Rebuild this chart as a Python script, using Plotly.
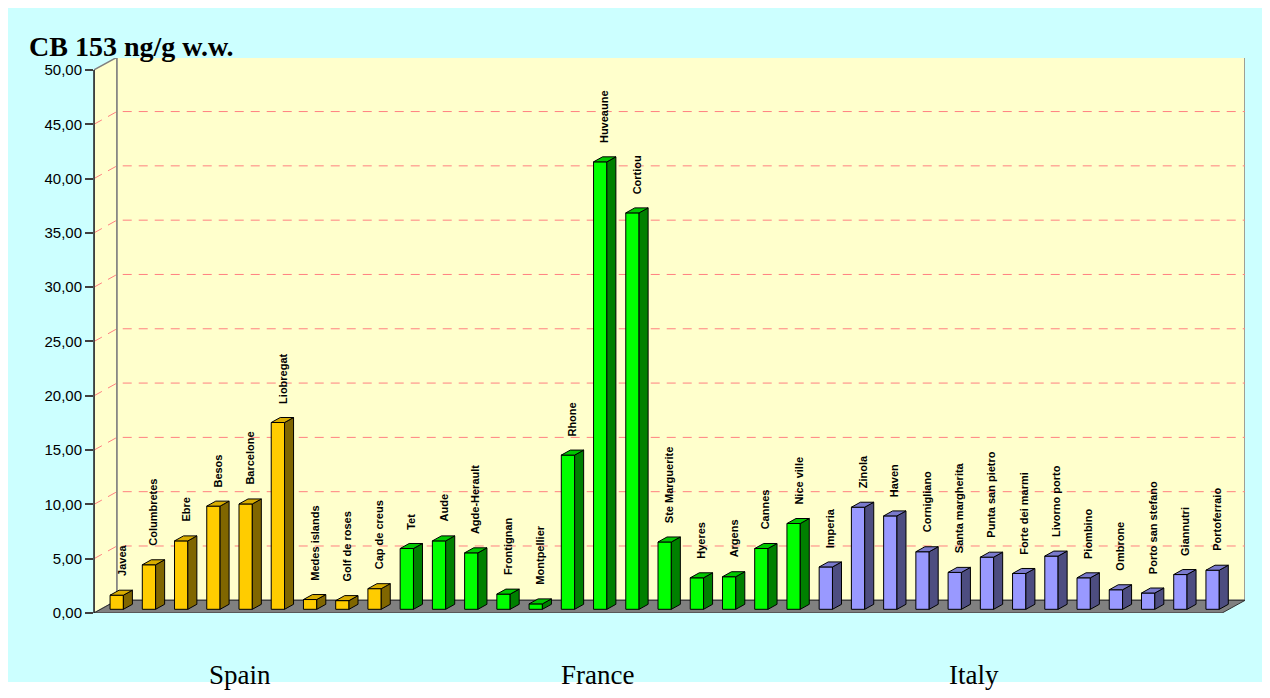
import plotly.graph_objects as go

# ---------------- data ----------------
spain_sites = ["Javea", "Columbretes", "Ebre", "Besos", "Barcelone", "Liobregat",
               "Medes islands", "Golf de roses", "Cap de creus"]
spain_values = [1.3, 4.1, 6.3, 9.5, 9.7, 17.2, 0.9, 0.8, 1.9]

france_sites = ["Tet", "Aude", "Agde-Herault", "Frontignan", "Montpellier", "Rhone",
                "Huveaune", "Cortiou", "Ste Marguerite", "Hyeres", "Argens", "Cannes",
                "Nice ville"]
france_values = [5.6, 6.3, 5.2, 1.4, 0.5, 14.2, 41.2, 36.5, 6.2, 2.9, 3.0, 5.6, 7.9]

italy_sites = ["Imperia", "Zinola", "Haven", "Cornigliano", "Santa margherita",
               "Punta san pietro", "Forte dei marmi", "Livorno porto", "Piombino",
               "Ombrone", "Porto san stefano", "Giannutri", "Portoferraio"]
italy_values = [3.9, 9.4, 8.6, 5.3, 3.4, 4.8, 3.3, 4.9, 2.9, 1.8, 1.5, 3.2, 3.6]

countries = ["Spain", "France", "Italy"]
tick_values = [0, 5, 10, 15, 20, 25, 30, 35, 40, 45, 50]
tick_labels = ["0,00", "5,00", "10,00", "15,00", "20,00", "25,00", "30,00",
               "35,00", "40,00", "45,00", "50,00"]
title_text = "CB 153 ng/g w.w."

# ---------------- styling / geometry ----------------
front_col = {"Spain": "#FFCC00", "France": "#00FF00", "Italy": "#9999FF"}
side_col = {"Spain": "#806600", "France": "#008000", "Italy": "#4D4D80"}
top_col = {"Spain": "#D9AD00", "France": "#00C800", "Italy": "#7A7ACC"}

n_total = len(spain_sites) + len(france_sites) + len(italy_sites)
X0 = -0.5
X1 = 35.21
Y1 = 51.1
DX, DY = 0.714, 1.17      # wall depth in axis units
OX, OY = 0.205, 0.34      # bar front-face offset
BW = 0.413                # bar front width
BDX, BDY = 0.28, 0.46     # bar depth

# page offset (body margin of the html page)
PAGE_OFF = 8
W, H = 1270 - PAGE_OFF, 698 - PAGE_OFF
ml = 94 - PAGE_OFF
mt = 58 - PAGE_OFF
mr = 1270 - 1245
mb = 698 - 613
pw, ph = W - ml - mr, H - mt - mb


def px_x(p):
    return (p - PAGE_OFF - ml) / pw


def px_y(p):
    return (H - mb - (p - PAGE_OFF)) / ph


fig = go.Figure()

groups = [("Spain", spain_sites, spain_values),
          ("France", france_sites, france_values),
          ("Italy", italy_sites, italy_values)]

annotations = []
start = 0
for cname, sites, vals in groups:
    xs = [start + k + OX for k in range(len(sites))]
    fig.add_trace(go.Bar(
        x=xs, y=vals, base=[OY] * len(vals), width=BW,
        marker=dict(color=front_col[cname], line=dict(color="black", width=1)),
        hoverinfo="skip", showlegend=False))
    sx, sy, tx, ty = [], [], [], []
    for xc, v in zip(xs, vals):
        xl, xr = xc - BW / 2, xc + BW / 2
        b, t = OY, OY + v
        sx += [xr, xr + BDX, xr + BDX, xr, xr, None]
        sy += [b, b + BDY, t + BDY, t, b, None]
        tx += [xl, xr, xr + BDX, xl + BDX, xl, None]
        ty += [t, t, t + BDY, t + BDY, t, None]
    fig.add_trace(go.Scatter(x=sx, y=sy, mode="lines", fill="toself",
                             fillcolor=side_col[cname],
                             line=dict(color="black", width=1),
                             hoverinfo="skip", showlegend=False))
    fig.add_trace(go.Scatter(x=tx, y=ty, mode="lines", fill="toself",
                             fillcolor=top_col[cname],
                             line=dict(color="black", width=1),
                             hoverinfo="skip", showlegend=False))
    for xc, v, s in zip(xs, vals, sites):
        annotations.append(dict(
            x=xc + BDX / 2, y=OY + v, xref="x", yref="y", text=s,
            textangle=-90, showarrow=False, xanchor="center", yanchor="bottom",
            yshift=17,
            font=dict(family="Liberation Sans, Arial", size=11, color="black",
                      weight="bold")))
    start += len(sites)

shapes = []
# cyan background panel
shapes.append(dict(type="rect", xref="paper", yref="paper",
                   x0=px_x(7), x1=px_x(1275), y0=px_y(682), y1=px_y(0),
                   fillcolor="#CCFFFF", line=dict(width=0), layer="below"))
# left wall
shapes.append(dict(type="path", xref="x", yref="y", layer="below",
                   path=f"M {X0},0 L {X0+DX},{DY} L {X0+DX},{50+DY} L {X0},50 Z",
                   fillcolor="#FFFFCC", line=dict(color="#808080", width=1.5)))
# back wall
shapes.append(dict(type="path", xref="x", yref="y", layer="below",
                   path=f"M {X0+DX},{DY} L {X1},{DY} L {X1},{50+DY} L {X0+DX},{50+DY} Z",
                   fillcolor="#FFFFCC", line=dict(color="#808080", width=1.5)))
# gridlines
for v in tick_values[1:-1]:
    shapes.append(dict(type="path", xref="x", yref="y", layer="below",
                       path=f"M {X0},{v} L {X0+DX},{v+DY} L {X1},{v+DY}",
                       line=dict(color="#FF8080", width=1, dash="9px,7px")))
# floor
shapes.append(dict(type="path", xref="x", yref="y", layer="below",
                   path=f"M {X0},0 L {X0+n_total},0 L {X0+n_total+DX},{DY} L {X0+DX},{DY} Z",
                   fillcolor="#808080", line=dict(color="#303030", width=1)))
# y axis line (front)
shapes.append(dict(type="line", xref="x domain", yref="y domain",
                   x0=0, x1=0, y0=0, y1=50 / Y1,
                   line=dict(color="#202020", width=1.5)))

fig.update_layout(
    width=W, height=H, autosize=False,
    margin=dict(l=ml, r=mr, t=mt, b=mb, pad=0),
    paper_bgcolor="white", plot_bgcolor="#CCFFFF",
    showlegend=False, barmode="overlay",
    shapes=shapes,
    xaxis=dict(range=[X0, X1], showgrid=False, zeroline=False, showline=False,
               showticklabels=False, ticks=""),
    yaxis=dict(range=[0, Y1], showgrid=False, zeroline=False, showline=False,
               tickvals=tick_values, ticktext=tick_labels, ticks="outside",
               ticklen=8, tickcolor="#404040", tickwidth=1.5,
               tickfont=dict(family="Liberation Sans, Arial", size=15, color="black")),
)

annotations.append(dict(text=title_text, xref="paper", yref="paper",
                        x=px_x(27), y=px_y(47), xanchor="left", yanchor="middle",
                        showarrow=False,
                        font=dict(family="Liberation Serif, Times New Roman", size=28,
                                  color="black", weight="bold")))
country_px = [240, 597, 974]
for c, cx in zip(countries, country_px):
    annotations.append(dict(text=c, xref="paper", yref="paper",
                            x=px_x(cx), y=px_y(675), xanchor="center", yanchor="middle",
                            showarrow=False,
                            font=dict(family="Liberation Serif, Times New Roman", size=27,
                                      color="black")))
fig.update_layout(annotations=annotations)

fig.write_html("out.html")
